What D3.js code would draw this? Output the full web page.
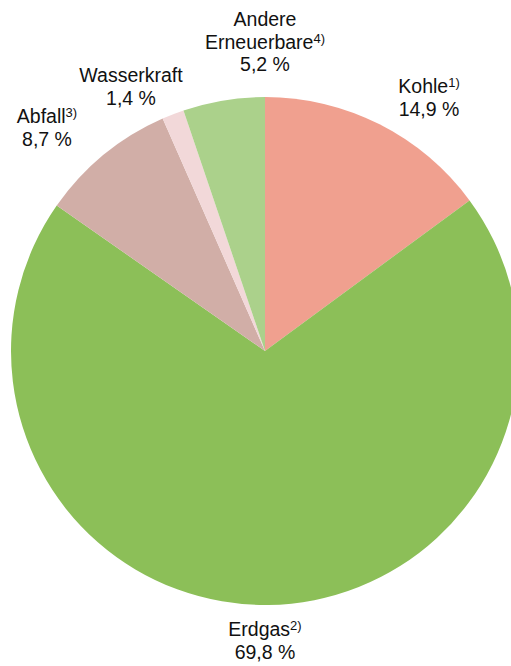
<!DOCTYPE html>
<html>
<head>
<meta charset="utf-8">
<script src="https://cdn.jsdelivr.net/npm/d3@7"></script>
<style>
  body { margin: 0; background: #fff; }
  svg { display: block; font-family: "Liberation Sans", Arial, sans-serif; }
</style>
</head>
<body>
<div id="chart"></div>
<script>
// Data
var labels = ["Kohle", "Erdgas", "Abfall", "Wasserkraft", "Andere Erneuerbare"];
var values = [14.9, 69.8, 8.7, 1.4, 5.2];
var notes = ["1)", "2)", "3)", "", "4)"];
var colors = ["#f0a08f", "#8cbf58", "#d1aea7", "#f2d8d9", "#abd18b"];

var width = 511, height = 666;
var cx = 265, cy = 351, r = 254;

var svg = d3.select('#chart').append('svg')
    .attr('width', width)
    .attr('height', height);

var g = svg.append('g').attr('transform', 'translate(' + cx + ',' + cy + ')');

var pie = d3.pie().sort(null).value(function(d) { return d; });
var arcs = pie(values);
var arc = d3.arc().innerRadius(0).outerRadius(r);

g.selectAll('path.slice')
    .data(arcs)
    .enter().append('path')
    .attr('class', 'slice')
    .attr('d', arc)
    .attr('fill', function(d, i) { return colors[i]; });

// label lines (name + footnote, then value)
var labelLines = [
  [["Kohle", "1)"], ["14,9 %", ""]],
  [["Erdgas", "2)"], ["69,8 %", ""]],
  [["Abfall", "3)"], ["8,7 %", ""]],
  [["Wasserkraft", ""], ["1,4 %", ""]],
  [["Andere", ""], ["Erneuerbare", "4)"], ["5,2 %", ""]]
];
// text anchors relative to centre
var labelPos = [[164, -258], [0, 285], [-218, -228], [-134, -269], [0, -325]];

labelLines.forEach(function(lines, i) {
  var t = g.append('text')
      .attr('text-anchor', 'middle')
      .attr('font-size', 19.5)
      .attr('fill', '#111');
  lines.forEach(function(line, j) {
    t.append('tspan')
        .attr('x', labelPos[i][0])
        .attr('y', labelPos[i][1] + j * 22.5)
        .text(line[0]);
    if (line[1]) {
      t.append('tspan')
          .attr('font-size', 13)
          .attr('dy', -6)
          .text(line[1]);
    }
  });
});
</script>
</body>
</html>
